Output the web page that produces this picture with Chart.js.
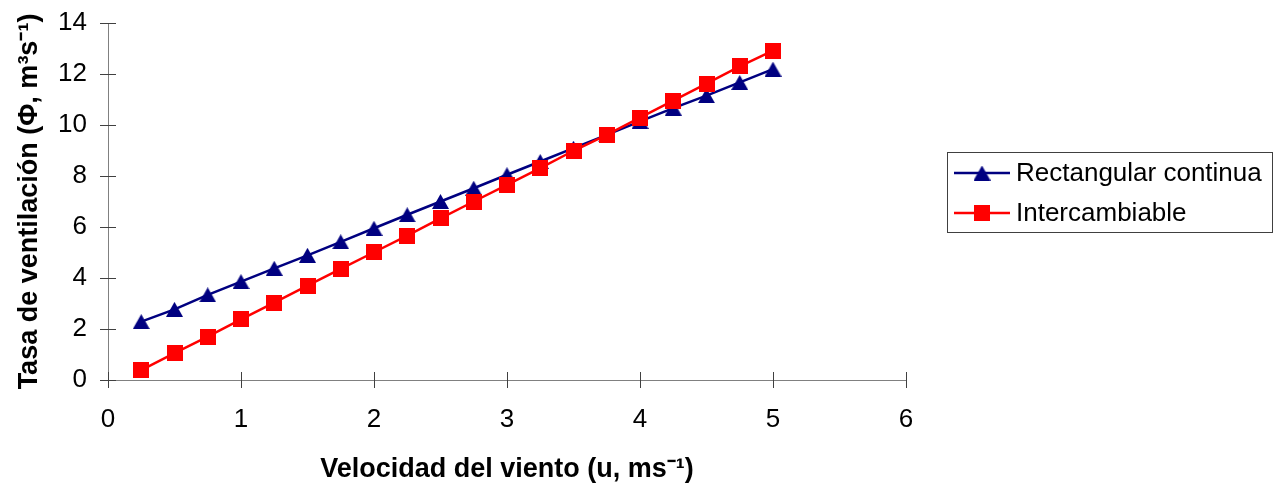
<!DOCTYPE html>
<html><head><meta charset="utf-8">
<script src="https://cdn.jsdelivr.net/npm/chart.js@4.4.1/dist/chart.umd.min.js"></script>
<style>html,body{margin:0;padding:0;background:#fff;overflow:hidden}canvas{display:block}</style>
</head><body>
<canvas id="c" width="1274" height="486"></canvas>
<script>
const windSpeed = [0.25,0.5,0.75,1.0,1.25,1.5,1.75,2.0,2.25,2.5,2.75,3.0,3.25,3.5,3.75,4.0,4.25,4.5,4.75,5.0];
const rectangularContinua = [2.29,2.77,3.34,3.86,4.38,4.89,5.42,5.95,6.48,7.00,7.52,8.05,8.57,9.09,9.61,10.14,10.66,11.15,11.67,12.19];
const intercambiable = [0.39,1.05,1.70,2.38,3.03,3.70,4.36,5.01,5.66,6.34,7.00,7.65,8.31,8.99,9.61,10.29,10.96,11.62,12.30,12.92];
const seriesNames = ['Rectangular continua','Intercambiable'];
const xTickValues = [0,1,2,3,4,5,6];
const yTickValues = [0,2,4,6,8,10,12,14];
const xTitle = 'Velocidad del viento (u, ms\u207B\u00B9)';
const yTitle = 'Tasa de ventilación (\u03A6, m\u00B3s\u207B\u00B9)';

const FONT = "'Liberation Sans', Arial, sans-serif";
const NAVY = '#000080', RED = '#FF0000';

function makeMarker(shape, color){
  const c = document.createElement('canvas');
  if (shape === 'triangle') {
    c.width = 17; c.height = 15;
    const x = c.getContext('2d');
    x.fillStyle = color; x.beginPath();
    x.moveTo(8.5, 0); x.lineTo(17, 15); x.lineTo(0, 15); x.closePath(); x.fill();
  } else {
    c.width = 16; c.height = 16;
    const x = c.getContext('2d');
    x.fillStyle = color; x.fillRect(0, 0, 16, 16);
  }
  return c;
}
const triMarker = makeMarker('triangle', NAVY);
const sqMarker = makeMarker('square', RED);

const toPoints = arr => windSpeed.map((x, i) => ({x: x, y: arr[i]}));

const tickMarks = {
  id: 'tickMarks',
  beforeDatasetsDraw(chart){
    const {ctx} = chart; const x = chart.scales.x, y = chart.scales.y;
    ctx.save(); ctx.strokeStyle = '#404040'; ctx.lineWidth = 1; ctx.beginPath();
    x.ticks.forEach(t => { const px = Math.round(x.getPixelForValue(t.value)) + 0.5; ctx.moveTo(px, x.top - 8); ctx.lineTo(px, x.top + 8); });
    y.ticks.forEach(t => { const py = Math.round(y.getPixelForValue(t.value)) + 0.5; ctx.moveTo(y.right - 8, py); ctx.lineTo(y.right + 8, py); });
    ctx.stroke(); ctx.restore();
  }
};

const boxLegend = {
  id: 'boxLegend',
  afterDraw(chart){
    const {ctx} = chart;
    ctx.save();
    ctx.strokeStyle = '#404040'; ctx.lineWidth = 1;
    ctx.strokeRect(947.5, 152.5, 325, 80);
    const rows = [173, 213];
    chart.data.datasets.forEach((ds, i) => {
      const yy = rows[i];
      ctx.strokeStyle = ds.borderColor; ctx.lineWidth = ds.borderWidth;
      ctx.beginPath(); ctx.moveTo(954, yy); ctx.lineTo(1010, yy); ctx.stroke();
      const m = ds.pointStyle;
      ctx.drawImage(m, 982 - m.width/2, yy - m.height/2);
      ctx.fillStyle = '#000'; ctx.font = '26px ' + FONT; ctx.textBaseline = 'middle'; ctx.textAlign = 'left';
      ctx.fillText(ds.label, 1016, yy + 1);
    });
    ctx.restore();
  }
};

new Chart(document.getElementById('c'), {
  type: 'line',
  data: {
    datasets: [
      { label: seriesNames[0], data: toPoints(rectangularContinua), borderColor: NAVY, backgroundColor: NAVY, borderWidth: 2.5,
        pointStyle: triMarker, pointRadius: 8, order: 2, tension: 0 },
      { label: seriesNames[1], data: toPoints(intercambiable), borderColor: RED, backgroundColor: RED, borderWidth: 2.5,
        pointStyle: sqMarker, pointRadius: 8, order: 1, tension: 0 }
    ]
  },
  options: {
    responsive: false, animation: false, devicePixelRatio: 1,
    layout: { padding: { top: 23, right: 368, bottom: 0, left: 0 } },
    plugins: { legend: { display: false }, tooltip: { enabled: false } },
    scales: {
      x: {
        type: 'linear', position: 'bottom', min: 0, max: 6,
        afterBuildTicks: s => { s.ticks = xTickValues.map(v => ({value: v})); },
        grid: { display: false, drawTicks: true, tickLength: 16 },
        border: { display: true, color: '#808080', width: 1 },
        ticks: { padding: 8, color: '#000', font: { size: 26, family: FONT } },
        title: { display: true, text: xTitle, color: '#000', font: { size: 27, weight: 'bold', family: FONT }, padding: { top: 0, bottom: 0 } },
        afterFit: s => { s.height = 106; }
      },
      y: {
        type: 'linear', position: 'left', min: 0, max: 14,
        afterBuildTicks: s => { s.ticks = yTickValues.map(v => ({value: v})); },
        grid: { display: false, drawTicks: true, tickLength: 15 },
        border: { display: true, color: '#808080', width: 1 },
        ticks: { padding: 6, color: '#000', font: { size: 26, family: FONT } },
        title: { display: true, text: yTitle, color: '#000', font: { size: 27, weight: 'bold', family: FONT }, padding: { top: 13.4, bottom: 0 } },
        afterFit: s => { s.width = 108; }
      }
    }
  },
  plugins: [tickMarks, boxLegend]
});
</script>
</body></html>
